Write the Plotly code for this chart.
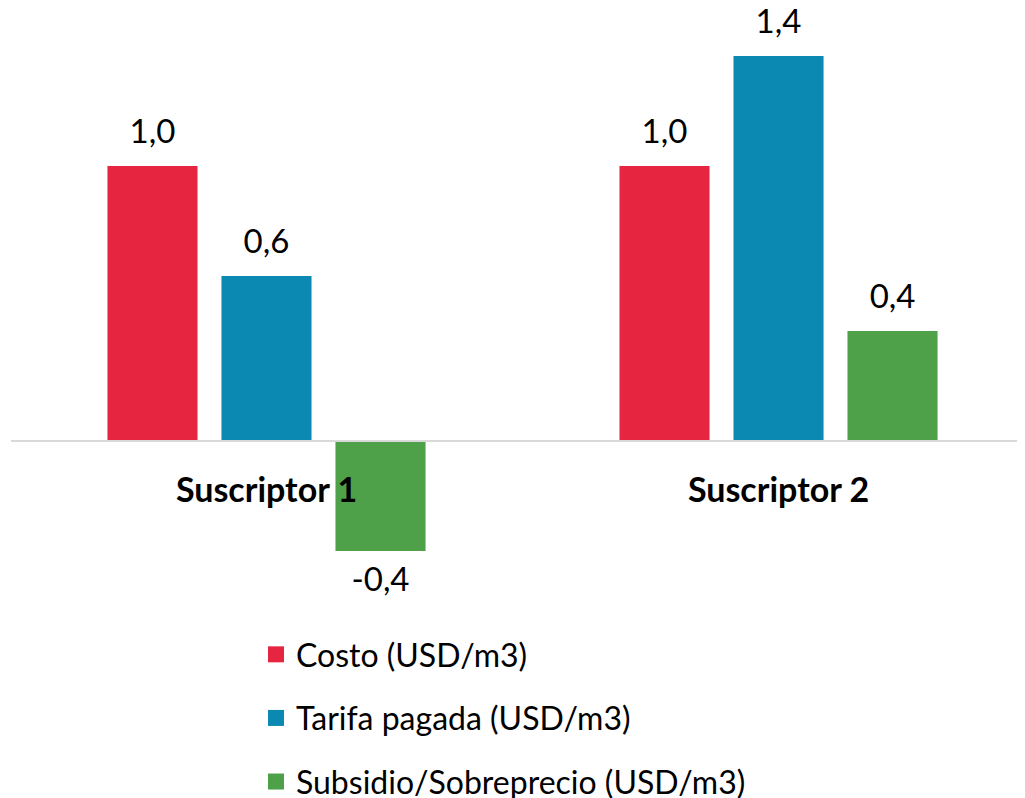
import plotly.graph_objects as go

categories = ["Suscriptor 1", "Suscriptor 2"]
series_names = ["Costo (USD/m3)", "Tarifa pagada (USD/m3)", "Subsidio/Sobreprecio (USD/m3)"]
costo = [1.0, 1.0]
tarifa = [0.6, 1.4]
subsidio = [-0.4, 0.4]
colors = ["#E62640", "#0C89B2", "#4EA049"]

FONT = "Lato"
series_values = [costo, tarifa, subsidio]
BARGAP = 0.332

def fmt(v):
    return f"{v:.1f}".replace(".", ",")

fig = go.Figure()
for i, (name, vals, col) in enumerate(zip(series_names, series_values, colors)):
    fig.add_trace(go.Bar(
        x=categories, y=vals, name=name, marker=dict(color=col, line=dict(width=0)),
        showlegend=False, offsetgroup=f"g{i}", hoverinfo="skip",
    ))
for i, (name, vals, col) in enumerate(zip(series_names, series_values, colors)):
    # data labels, aligned with the grouped bars
    fig.add_trace(go.Scatter(
        x=categories, y=vals, mode="markers+text", name=name,
        text=[fmt(v) for v in vals],
        textposition=["top center" if v >= 0 else "bottom center" for v in vals],
        textfont=dict(family=FONT, size=33, color="#000000"),
        marker=dict(size=22, opacity=0, color=col),
        showlegend=False, offsetgroup=f"g{i}", cliponaxis=False,
    ))
for i, (name, col) in enumerate(zip(series_names, colors)):
    fig.add_trace(go.Scatter(
        x=[None], y=[None], mode="markers", name=name,
        marker=dict(symbol="square", size=20, color=col),
        legendgroup=f"g{i}", offsetgroup=f"g{i}",
    ))

y_lo, y_hi = -0.6509, 1.5745
zero_pos = (0 - y_lo) / (y_hi - y_lo)

fig.update_layout(
    width=1017, height=798,
    margin=dict(l=3, r=0, t=0, b=186, autoexpand=False),
    paper_bgcolor="white", plot_bgcolor="white",
    barmode="group", bargap=BARGAP, bargroupgap=0.21,
    scattermode="group", scattergap=BARGAP,
    font=dict(family=FONT, size=32, color="#000000"),
    showlegend=True,
    legend=dict(
        x=0.2416, y=-0.0115, xanchor="left", yanchor="top",
        orientation="v", traceorder="grouped", tracegroupgap=19,
        font=dict(family=FONT, size=32, color="#000000"),
        itemwidth=30,
    ),
    xaxis=dict(
        range=[-0.499, 1.4814], anchor="free", position=zero_pos,
        showline=True, linecolor="#D9D9D9", linewidth=2,
        showgrid=False, zeroline=False, ticks="",
        tickfont=dict(family=FONT, size=34, color="#000000", weight="bold"),
        ticklabelstandoff=19,
    ),
    yaxis=dict(range=[y_lo, y_hi], visible=False, showgrid=False, zeroline=False),
)

fig.write_html("out.html")
